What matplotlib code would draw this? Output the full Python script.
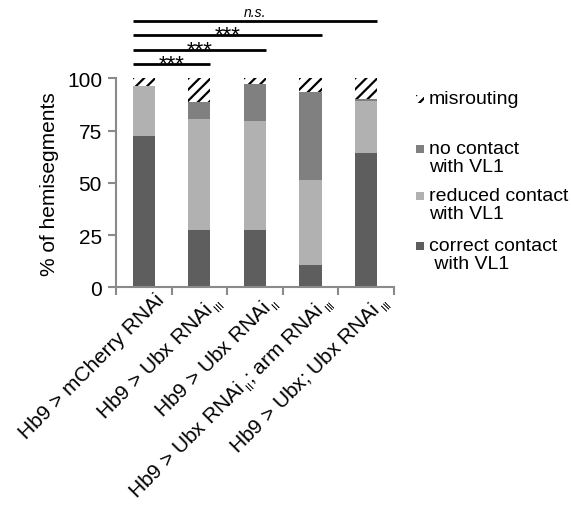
import matplotlib
matplotlib.use("Agg")
import matplotlib.pyplot as plt
from matplotlib.patches import Rectangle
import matplotlib.transforms as mtrans
import numpy as np

plt.rcParams['font.family'] = ['Liberation Sans', 'DejaVu Sans']
plt.rcParams['mathtext.fontset'] = 'custom'
plt.rcParams['mathtext.rm'] = 'Liberation Sans'
plt.rcParams['mathtext.it'] = 'Liberation Sans'
plt.rcParams['hatch.linewidth'] = 1.6

categories = [r"Hb9 > mCherry RNAi",
              r"Hb9 > Ubx RNAi$\,{}_{{}_{III}}$",
              r"Hb9 > Ubx RNAi$\,{}_{{}_{II}}$",
              r"Hb9 > Ubx RNAi$\,{}_{{}_{II}}$; arm RNAi$\,{}_{{}_{III}}$",
              r"Hb9 > Ubx; Ubx RNAi$\,{}_{{}_{III}}$"]
correct = [72.5, 27.5, 27.5, 10.5, 64.5]
reduced = [24.0, 53.0, 52.0, 41.0, 24.5]
no_contact = [0.0, 8.0, 18.0, 42.0, 1.0]
misrouting = [3.5, 11.5, 2.5, 6.5, 10.0]
yticks = [0, 25, 50, 75, 100]
sig_labels = ["***", "***", "***", "n.s."]
sig_targets = [1, 2, 3, 4]

c_correct = '#5e5e5e'
c_reduced = '#b1b1b1'
c_none = '#808080'
spine_c = '#8a8a8a'

fig = plt.figure(figsize=(5.71, 5.06), dpi=100)
ax = fig.add_axes([0.203, 0.430, 0.487, 0.413])

x = np.arange(len(categories))
w = 0.4
b1 = np.array(correct)
b2 = b1 + np.array(reduced)
b3 = b2 + np.array(no_contact)
ax.bar(x, correct, w, color=c_correct, zorder=2)
ax.bar(x, reduced, w, bottom=b1, color=c_reduced, zorder=2)
ax.bar(x, no_contact, w, bottom=b2, color=c_none, zorder=2)
ax.bar(x, misrouting, w, bottom=b3, color='white', edgecolor='black',
       hatch='///', linewidth=0, zorder=2)

ax.set_xlim(-0.5, len(categories) - 0.5)
ax.set_ylim(0, 100)
ax.set_yticks(yticks)
ax.set_yticklabels([str(t) for t in yticks], fontsize=15)
ax.set_ylabel("% of hemisegments", fontsize=15, labelpad=6)

ax.set_xticks(np.arange(-0.5, len(categories)), minor=False)
ax.set_xticklabels([])
ax.set_xticks(x, minor=True)
ax.set_xticklabels(categories, minor=True, rotation=45, ha='right',
                   va='top', rotation_mode='anchor', fontsize=15)
ax.tick_params(axis='x', which='minor', length=0, pad=4)
ax.tick_params(axis='x', which='major', length=6, width=1.5, color=spine_c, direction='out')
ax.tick_params(axis='y', length=6, width=1.5, color=spine_c, direction='out', pad=4)

offset = mtrans.ScaledTranslation(11/100, 3/100, fig.dpi_scale_trans)
for lab in ax.get_xticklabels(minor=True):
    lab.set_transform(lab.get_transform() + offset)

for s in ['top', 'right']:
    ax.spines[s].set_visible(False)
for s in ['left', 'bottom']:
    ax.spines[s].set_color(spine_c)
    ax.spines[s].set_linewidth(1.5)

# significance lines
ys = [106.8, 113.7, 120.9, 127.6]
for lbl, tgt, yv in zip(sig_labels, sig_targets, ys):
    x0 = 0 - w / 2
    x1 = tgt + w / 2
    ax.plot([x0, x1], [yv, yv], color='black', lw=2.0, clip_on=False,
            solid_capstyle='butt')
    if lbl == "n.s.":
        ax.text((x0 + x1) / 2, yv + 1.0, lbl, ha='center', va='bottom',
                fontsize=10, style='italic')
    else:
        ax.text((x0 + x1) / 2, yv - 5.0, lbl, ha='center', va='bottom',
                fontsize=16)

# legend (manual, in figure coordinates)
leg_items = [("misrouting", 'hatch', 100),
             ("no contact\nwith VL1", c_none, 150),
             ("reduced contact\nwith VL1", c_reduced, 197),
             ("correct contact\n with VL1", c_correct, 247)]
H = 506.0
for txt, col, ypix in leg_items:
    yf = 1 - ypix / H
    if col == 'hatch':
        r = Rectangle((416/571, yf - 4/H), 8/571, 8/H, transform=fig.transFigure,
                      facecolor='white', edgecolor='black', hatch='///',
                      linewidth=0)
    else:
        r = Rectangle((416/571, yf - 4/H), 8/571, 8/H, transform=fig.transFigure,
                      facecolor=col, edgecolor='none')
    fig.patches.append(r)
    fig.text(429/571, yf + 9/H, txt, ha='left', va='top', fontsize=14,
             linespacing=1.05)

fig.savefig("out.png", dpi=100)
